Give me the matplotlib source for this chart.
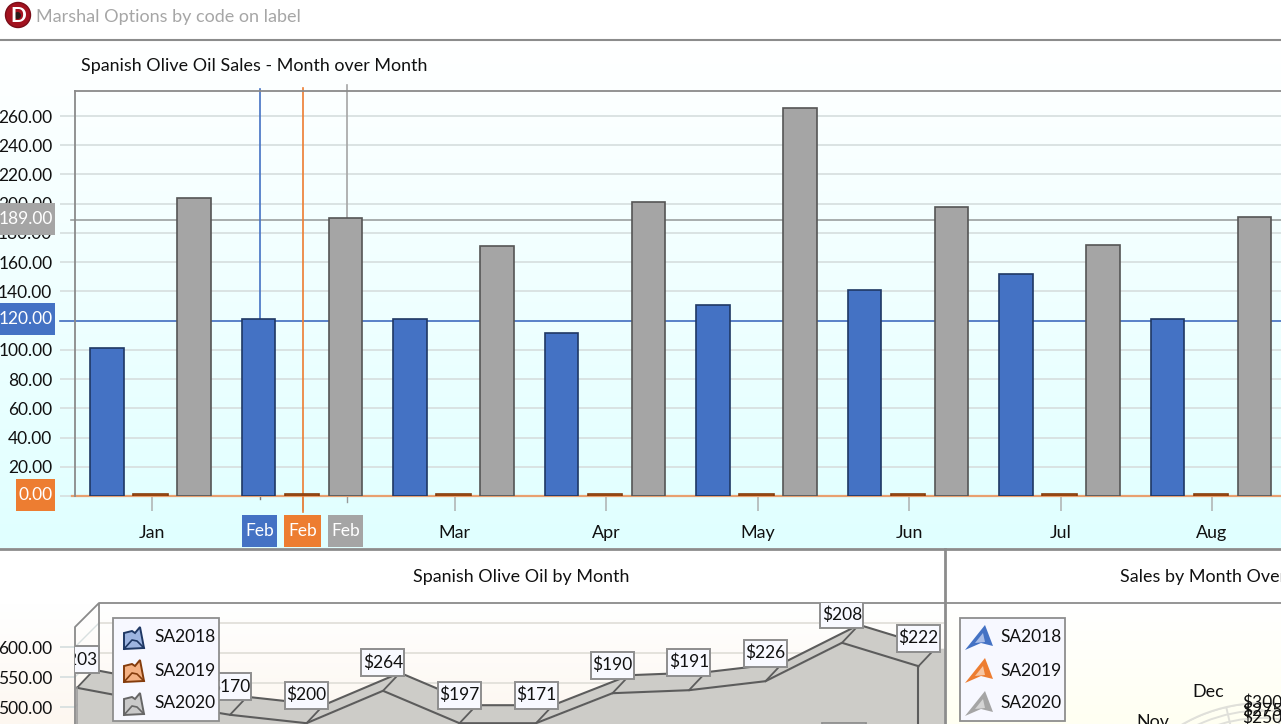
# -*- coding: utf-8 -*-
import numpy as np
import matplotlib
matplotlib.use("Agg")
import matplotlib.pyplot as plt
from matplotlib.patches import Rectangle, Polygon, Circle

plt.rcParams["font.family"] = ["Lato", "DejaVu Sans"]

W, H = 1281, 724

# top chart
months_top = ["Jan", "Feb", "Mar", "Apr", "May", "Jun", "Jul", "Aug"]
sa2018 = [101, 121, 121, 111.5, 131, 141, 152, 121]
sa2019 = [1.5, 1.5, 1.5, 1.5, 1.5, 1.5, 1.5, 1.5]
sa2020 = [204, 190.5, 171, 201, 265.5, 198, 172, 191]
top_ticks = [0, 20, 40, 60, 80, 100, 120, 140, 160, 180, 200, 220, 240, 260]
cross_blue = 120
cross_orange = 0
cross_gray = 189

# bottom left chart
area_front = [532, 508, 487, 473, 527, 473, 473, 523, 528, 543, 607, 568]
area_labels = ["$203", "$185", "$170", "$200", "$264", "$197", "$171", "$190", "$191", "$226", "$208", "$222"]
area_ticks = [500, 550, 600]
series_names = ["SA2018", "SA2019", "SA2020"]

# bottom right chart
radar_ticks = [250, 275, 300]
radar_tick_labels = ["$250", "$275", "$300"]
radar_months = ["Nov", "Dec"]
radar_month_theta = [322, 342.4]
radar_spokes = [307, 327, 347, 7]

BLUE, ORANGE, GRAY = "#4472C4", "#ED7D31", "#A5A5A5"
EDGE = {"b": "#1F3864", "o": "#843C0C", "g": "#555555"}
AXIS = "#8a8a8a"
GRID = "#d8e0e0"
FS = 12.9
FS_NUM = 12.5


def px_axes(left, top, right, bottom, **kw):
    return fig.add_axes([left / W, (H - bottom) / H, (right - left) / W, (bottom - top) / H], **kw)


fig = plt.figure(figsize=(W / 100, H / 100), dpi=100, facecolor="white")

# backgrounds in pixel coordinates
bg = fig.add_axes([0, 0, 1, 1], zorder=0)
bg.set_xlim(0, W)
bg.set_ylim(H, 0)
bg.axis("off")


def gradient(ax, x0, x1, y0, y1, c0, c1):
    c0 = np.array(matplotlib.colors.to_rgb(c0))
    c1 = np.array(matplotlib.colors.to_rgb(c1))
    t = np.linspace(0, 1, 64)[:, None, None]
    img = c0[None, None, :] * (1 - t) + c1[None, None, :] * t
    ax.imshow(img, extent=[x0, x1, y1, y0], aspect="auto", zorder=0)


gradient(bg, 0, W, 40, 548, "#ffffff", "#e0ffff")
gradient(bg, 0, 944, 603, 724, "#ffffff", "#fdf7f0")
gradient(bg, 945, W, 603, 724, "#ffffff", "#fffff2")
bg.set_xlim(0, W)
bg.set_ylim(H, 0)

# top chart
PX_T = 151.5
ax = px_axes(75, 91, W, 496, zorder=1)
ax.patch.set_alpha(0)
x = np.arange(len(months_top))
bar_w = 33.5 / PX_T
off = 43.5 / PX_T
shift = 1.2 / PX_T
ax.bar(x - off - shift, sa2018, bar_w, color=BLUE, edgecolor=EDGE["b"], linewidth=1.2, zorder=3)
ax.bar(x - shift, sa2019, 34.5 / PX_T, color=ORANGE, edgecolor=EDGE["o"], linewidth=1.2, zorder=3)
ax.bar(x + off - shift, sa2020, bar_w, color=GRAY, edgecolor=EDGE["g"], linewidth=1.2, zorder=3)
ax.set_xlim(-76.5 / PX_T, (W - 151.5) / PX_T)
ax.set_ylim(0, 405 / 1.4615)
ax.set_yticks(top_ticks)
ax.set_yticklabels(["%.2f" % v for v in top_ticks], fontsize=FS_NUM, color="#111111")
ax.set_xticks(x)
ax.set_xticklabels(months_top, fontsize=FS, color="#111111")
ax.tick_params(axis="y", length=10.8, width=1.3, color=GRID, pad=5.5)
ax.tick_params(axis="x", length=11, width=1.3, color="#b5bcbc", pad=10)
ax.grid(axis="y", color=GRID, linewidth=1.3)
ax.set_axisbelow(True)
for side in ["right", "bottom"]:
    ax.spines[side].set_visible(False)
for side in ["left", "top"]:
    ax.spines[side].set_color(AXIS)
    ax.spines[side].set_linewidth(1.3)

# crosshair on Feb
feb_blue = 1 - 43 / PX_T
feb_gray = 1 + 44 / PX_T
ax.plot([-92 / PX_T, x[-1] + 1], [cross_blue, cross_blue], color=BLUE, lw=1.2, zorder=2, clip_on=False)
ax.plot([-81 / PX_T, x[-1] + 1], [cross_gray, cross_gray], color="#9a9f9f", lw=1.2, zorder=2, clip_on=False)
ax.plot([-80 / PX_T, x[-1] + 1], [cross_orange, cross_orange], color="#E8A070", lw=1.6, zorder=2.5, clip_on=False)
ax.plot([feb_blue, feb_blue], [cross_blue, 278.5], color=BLUE, lw=1.2, zorder=2, clip_on=False)
ax.plot([1, 1], [-11, 279.5], color=ORANGE, lw=1.2, zorder=2.5, clip_on=False)
ax.plot([feb_gray, feb_gray], [cross_gray, 281], color=GRAY, lw=1.2, zorder=2, clip_on=False)
ax.plot([feb_blue, feb_blue], [0, -2], color="#777777", lw=1, clip_on=False)
ax.plot([feb_gray, feb_gray], [0, -4], color="#999999", lw=1, clip_on=False)

# bottom left chart
PX_M = 76.5
PX_V = 0.6
ax2 = px_axes(75, 603, 944, H, zorder=1)
ax2.patch.set_alpha(0)
ax2.set_xlim(-2 / PX_M, 867 / PX_M)
ax2.set_ylim(600 - 77 / PX_V, 600 + 44 / PX_V)
mx = np.arange(len(area_front))
front = np.array(area_front, dtype=float)
dx, dy = 17 / PX_M, 18 / PX_V
wall_dx, wall_dy = 24 / PX_M, 24 / PX_V

ax2.set_yticks(area_ticks)
ax2.set_yticklabels(["%.2f" % v for v in area_ticks], fontsize=FS_NUM, color="#111111")
ax2.tick_params(axis="y", length=10.8, width=1.3, color=GRID, pad=5.5)
ax2.set_xticks([])
for s in ax2.spines.values():
    s.set_visible(False)

xmin, xmax = ax2.get_xlim()
ymin, ymax = ax2.get_ylim()
for v in [500, 550, 600]:
    ax2.plot([xmin, xmin + wall_dx], [v, v + wall_dy], color=GRID, lw=1, zorder=1, clip_on=False)
for v in [450, 500, 550, 600]:
    ax2.plot([xmin + wall_dx, xmax], [v + wall_dy, v + wall_dy], color="#e2e0da", lw=1.3, zorder=1)
# walls
ax2.plot([xmin, xmin, xmin + wall_dx, xmax], [ymin, ymax - wall_dy, ymax, ymax], color=AXIS, lw=1.3, zorder=5, clip_on=False)
ax2.plot([xmin + wall_dx] * 2, [ymin, ymax], color=AXIS, lw=1.3, zorder=1.5)

# area faces
AREA = "#cdccc8"
LINE = "#5c5c5c"
top_x = np.r_[mx, (mx + dx)[::-1]]
top_y = np.r_[front, (front + dy)[::-1]]
ax2.add_patch(Polygon(np.c_[top_x, top_y], closed=True, facecolor=AREA, edgecolor="none", zorder=2))
ax2.fill_between(mx, front, ymin, color=AREA, lw=0, zorder=2)
ax2.fill_between([mx[-1], mx[-1] + dx, xmax], [front[-1], front[-1] + dy, front[-1] + dy], ymin, color=AREA, lw=0, zorder=2)
ax2.plot(mx, front, color=LINE, lw=1.5, zorder=3)
ax2.plot(mx + dx, front + dy, color=LINE, lw=1.5, zorder=3)
for i in mx:
    ax2.plot([i, i + dx], [front[i], front[i] + dy], color=LINE, lw=1.3, zorder=3)
ax2.plot([mx[-1], mx[-1]], [front[-1], ymin], color=LINE, lw=1.5, zorder=3)
ax2.plot([0, 0], [front[0], ymin], color="#9a9a9a", lw=1.2, zorder=3)

box_w, box_h = 43 / PX_M, 27 / PX_V
for i, lab in zip(mx, area_labels):
    cy = front[i] + 28 / PX_V
    ax2.add_patch(Rectangle((i - box_w / 2, cy - box_h / 2), box_w, box_h, facecolor="#f8f9ff", edgecolor="#8e8e8e", lw=1.4, zorder=6))
    ax2.text(i, cy, lab, ha="center", va="center", fontsize=FS_NUM, color="#111111", zorder=7, clip_on=True)

# bottom right chart
R = 159
rad = fig.add_axes([(1262 - R) / W, (H - 862 - R) / H, 2 * R / W, 2 * R / H], projection="polar", zorder=1)
rad.patch.set_alpha(0)
rad.set_theta_zero_location("N")
rad.set_theta_direction(-1)
rad.set_rlim(-230, 300)
rad.set_rticks(radar_ticks)
rad.set_yticklabels([])
rad.set_thetagrids(radar_spokes, labels=[""] * len(radar_spokes))
rad.grid(color="#e0e0da", linewidth=1.4)
rad.spines["polar"].set_color("#e0e0da")
rad.spines["polar"].set_linewidth(1.4)
for v, lab in zip(radar_ticks, radar_tick_labels):
    rad.text(0, v, lab, ha="center", va="center", fontsize=FS_NUM, color="#111111")
for th, lab in zip(radar_month_theta, radar_months):
    rad.text(np.deg2rad(th), 363, lab, ha="center", va="center", fontsize=FS, color="#111111")

# chrome on top
fg = fig.add_axes([0, 0, 1, 1], zorder=5)
fg.patch.set_alpha(0)
fg.set_xlim(0, W)
fg.set_ylim(H, 0)
fg.axis("off")

fg.plot([0, W], [39.5, 39.5], color="#8c8c8c", lw=1.5)
fg.plot([0, W], [549, 549], color="#8c8c8c", lw=2)
fg.plot([944.5, 944.5], [549, H], color="#8c8c8c", lw=2)
fg.plot([945, W], [603, 603], color="#8c8c8c", lw=1.3)

fg.add_patch(Circle((18, 15), 12.5, facecolor="#A3121F", edgecolor="#7a0d18", lw=1))
fg.text(18, 15.5, "D", ha="center", va="center", fontsize=15, fontweight="bold", color="white")
fg.add_patch(Circle((17.5, 15.5), 3.5, facecolor="#2a1a1a", edgecolor="none"))
fg.text(36, 17, "Marshal Options by code on label", ha="left", va="center", fontsize=13, color="#a6a6a6")
fg.text(81, 66, "Spanish Olive Oil Sales - Month over Month", ha="left", va="center", fontsize=FS, color="#111111")
fg.text(521, 577, "Spanish Olive Oil by Month", ha="center", va="center", fontsize=FS, color="#111111")
fg.text(1120, 577, "Sales by Month Over Year", ha="left", va="center", fontsize=FS, color="#111111")


def tag(x0, x1, y0, y1, color, text, ha="center"):
    fg.add_patch(Rectangle((x0, y0), x1 - x0, y1 - y0, facecolor=color, edgecolor="none"))
    tx = (x0 + x1) / 2 if ha == "center" else x1 - 2
    fg.text(tx, (y0 + y1) / 2 + 0.5, text, ha=ha, va="center", fontsize=FS_NUM, color="white")


tag(0, 55, 203, 235, GRAY, "%.2f" % cross_gray, ha="right")
tag(0, 55, 303, 335, BLUE, "%.2f" % cross_blue, ha="right")
tag(16, 55, 479, 511, ORANGE, "%.2f" % cross_orange, ha="right")
tag(242, 277, 515, 547, BLUE, "Feb")
tag(284, 321, 515, 547, ORANGE, "Feb")
tag(328, 363, 515, 547, GRAY, "Feb")

# stray label box cut off by the bottom edge
fg.add_patch(Rectangle((822, 723), 44, 10, facecolor="#f8f9ff", edgecolor="#8e8e8e", lw=1.3))

# legends
legend_rows = [637, 670, 703]
left_fill = ["#9DB4E0", "#F4B183", "#C9C9C9"]
left_edge = ["#1F3864", "#843C0C", "#666666"]
right_fill = [BLUE, ORANGE, GRAY]
right_inner = ["#A9BDE8", "#F7C6A3", "#D4D4D4"]

fg.add_patch(Rectangle((113, 618), 106, 103, facecolor="#f7f8ff", edgecolor="#8e8e8e", lw=1.3))
for y, name, f, e in zip(legend_rows, series_names, left_fill, left_edge):
    fg.add_patch(Polygon([(124, y + 12), (124, y - 4), (132, y - 6), (135, y - 4), (140, y - 10), (144, y + 11)],
                         closed=True, facecolor=f, edgecolor=e, lw=1.4))
    fg.plot([124, 132, 137, 144], [y + 12, y + 3, y + 4, y + 11], color=e, lw=1.2)
    fg.text(154, y + 0.5, name, ha="left", va="center", fontsize=FS_NUM, color="#111111")

fg.add_patch(Rectangle((960, 618), 105, 103, facecolor="#f7f8ff", edgecolor="#8e8e8e", lw=1.3))
for y, name, f, c in zip(legend_rows, series_names, right_fill, right_inner):
    fg.add_patch(Polygon([(965, y + 13), (985, y - 12), (993, y + 9), (981, y + 6)], closed=True, facecolor=f, edgecolor="none"))
    fg.add_patch(Polygon([(975, y + 6), (983, y - 4), (985, y + 5)], closed=True, facecolor=c, edgecolor="none"))
    fg.text(1000, y + 0.5, name, ha="left", va="center", fontsize=FS_NUM, color="#111111")

fig.savefig("out.png", dpi=100)
